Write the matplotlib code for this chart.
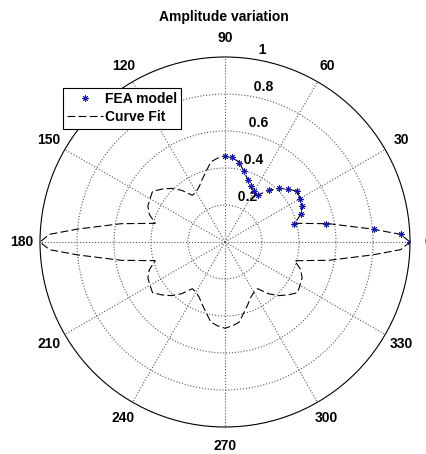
import numpy as np
import matplotlib.pyplot as plt
from matplotlib.lines import Line2D

plt.rcParams['font.family'] = ['Liberation Sans', 'DejaVu Sans']

# FEA results over the first quadrant (angle in degrees, normalised amplitude)
fea_angle = [0, 2.5, 5, 10, 15, 20, 25, 30, 35, 40, 45, 50, 55, 60, 65, 70, 75, 80, 85, 90]
fea_amp = [1.00, 0.95, 0.81, 0.555, 0.385, 0.437, 0.46, 0.468, 0.476, 0.445,
           0.413, 0.366, 0.308, 0.317, 0.332, 0.358, 0.395, 0.433, 0.46, 0.466]

# fitted curve for one quadrant; the pattern is symmetric about both axes
fit_angle = [0, 2.5, 5, 10, 15, 20, 25, 30, 35, 40, 45, 50, 55, 60, 65, 70, 75, 80, 85, 90]
fit_amp = [1.00, 0.95, 0.80, 0.57, 0.39, 0.435, 0.46, 0.468, 0.478, 0.445,
           0.41, 0.365, 0.308, 0.313, 0.33, 0.36, 0.395, 0.44, 0.455, 0.466]

angle_ticks = list(range(0, 360, 30))
radius_ticks = [0.2, 0.4, 0.6, 0.8, 1.0]

q = np.array(fit_angle)
a = np.array(fit_amp)
full_angle = np.concatenate([q, 180 - q[::-1], 180 + q, 360 - q[::-1]])
full_amp = np.concatenate([a, a[::-1], a, a[::-1]])

fs = 10
fig = plt.figure(figsize=(4.27, 4.54), dpi=100)
ax = fig.add_axes([40 / 427, 27 / 454, 370 / 427, 370 / 454], projection='polar')
ax.set_ylim(0, 1)
ax.set_thetagrids(angle_ticks, labels=[])
ax.set_rgrids(radius_ticks[:-1], labels=[])
ax.grid(True, color='0.35', linestyle=':', linewidth=0.8)
ax.spines['polar'].set_color('black')
ax.spines['polar'].set_linewidth(0.8)

ax.plot(np.deg2rad(full_angle), full_amp, color='black', lw=0.8,
        linestyle=(0, (7, 3)), zorder=3)
ax.plot(np.deg2rad(fea_angle), fea_amp, linestyle='none', marker=(8, 2, 0),
        ms=4.5, mec='#1a1aa8', mew=0.7, zorder=4)

for deg in angle_ticks:
    ax.text(np.deg2rad(deg), 1.1, str(deg), ha='center', va='center',
            fontsize=fs, fontweight='bold')
for r in radius_ticks:
    ax.text(np.deg2rad(82), r + 0.01, f'  {r:g}', ha='left', va='bottom',
            fontsize=fs, fontweight='bold')

fig.text(224 / 427, 1 - 17 / 454, 'Amplitude variation', ha='center', va='center',
         fontsize=fs, fontweight='bold')

handles = [
    Line2D([], [], linestyle='none', marker=(8, 2, 0), ms=4.5, mec='#1a1aa8', mew=0.7),
    Line2D([], [], color='black', lw=0.8, linestyle=(0, (7, 3))),
]
leg = ax.legend(handles, ['FEA model', 'Curve Fit'], loc='upper left',
                bbox_to_anchor=(63 / 427, 1 - 88 / 454), bbox_transform=fig.transFigure,
                fancybox=False, edgecolor='black', framealpha=1, borderaxespad=0,
                prop={'weight': 'bold', 'size': fs}, handlelength=2.6,
                handletextpad=0.1, borderpad=0.3, labelspacing=0.3)
leg.get_frame().set_linewidth(0.8)

fig.savefig('out.png', dpi=100)
